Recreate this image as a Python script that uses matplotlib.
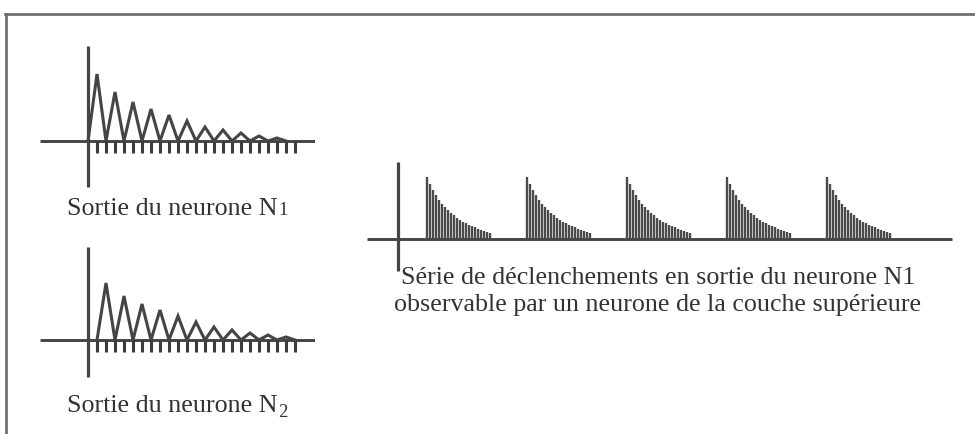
import matplotlib
matplotlib.use("Agg")
import matplotlib.pyplot as plt
from matplotlib.lines import Line2D

# amplitudes des pics (sortie triangulaire)
pics_n1 = [67, 49, 39, 32, 26, 20, 14, 11, 8, 5, 3]
pics_n2 = [57, 44, 36, 30, 24, 18, 13, 10, 7, 5, 3]
graduations = list(range(1, 24))

# série de déclenchements : début de chaque salve et hauteur des barres
debut_salves = [29, 129, 229, 329, 429]
hauteurs_salve = [62, 55, 49, 44, 39, 35, 32, 29, 26, 24, 21, 19,
                  17, 16, 14, 13, 12, 10, 9, 8, 7, 6]
pas_barres = 3

W, H = 975, 435
GRIS = "#454545"
POLICE = "Liberation Serif"
TAILLE = 18.7

fig = plt.figure(figsize=(W / 100, H / 100), dpi=100)
fig.patch.set_facecolor("white")


def axes_px(x0, y0, x1, y1):
    # rectangle en pixels (origine en haut a gauche)
    ax = fig.add_axes([x0 / W, 1 - y1 / H, (x1 - x0) / W, (y1 - y0) / H])
    ax.axis("off")
    return ax


# cadre (haut et gauche)
fig.add_artist(Line2D([5 / W, 1], [1 - 15 / H] * 2, color="#6a6a6a", lw=1.9))
fig.add_artist(Line2D([6 / W] * 2, [1 - 15 / H, 0], color="#6a6a6a", lw=1.9))


def panneau_neurone(y_base, pics, decalage, haut, bas):
    x0, x1 = 40, 315
    ax = axes_px(x0, y_base - 100, x1, y_base + 50)
    ax.set_xlim((x0 - 88) / 9, (x1 - 88) / 9)
    ax.set_ylim(-50, 100)
    ax.plot(ax.get_xlim(), [0, 0], color=GRIS, lw=2.1, solid_capstyle="butt")
    ax.plot([0, 0], [-bas, haut], color=GRIS, lw=2.3, solid_capstyle="butt")
    ax.vlines(graduations, -12, 0, color="#3c3c3c", lw=2.2)
    xs, ys = [], []
    for k, h in enumerate(pics):
        xs += [decalage + 2 * k, decalage + 2 * k + 1]
        ys += [0, h]
    xs.append(decalage + 2 * len(pics))
    ys.append(0)
    ax.plot(xs, ys, color=GRIS, lw=2.2, solid_joinstyle="miter")
    return ax


panneau_neurone(142, pics_n1, 0, 95, 46)
panneau_neurone(341, pics_n2, 1, 93, 37)

# panneau de droite : salves
ax = axes_px(360, 150, 960, 280)
ax.set_xlim(360 - 398, 960 - 398)
ax.set_ylim(-40, 90)
ax.plot([367 - 398, 952 - 398], [0, 0], color=GRIS, lw=2.1, solid_capstyle="butt")
ax.plot([0, 0], [-32, 77], color=GRIS, lw=2.3, solid_capstyle="butt")
for d in debut_salves:
    xb = [d + i * pas_barres for i in range(len(hauteurs_salve))]
    ax.vlines(xb, 0, hauteurs_salve, color="#4a4a4a", lw=1.7)


def texte_px(x, y, s, **kw):
    return fig.text(x / W, 1 - y / H, s, family=POLICE, color="#333333", **kw)


def suffixe(t, s, taille, dy):
    # place un petit chiffre juste apres un texte deja pose
    fig.canvas.draw()
    bb = t.get_window_extent()
    x, y = t.get_position()
    fig.text(bb.x1 / W + 0.001, y - dy / H, s, family=POLICE, color="#333333",
             fontsize=taille, va="baseline")


t1 = texte_px(67, 215, "Sortie du neurone N", fontsize=TAILLE, va="baseline")
suffixe(t1, "1", 13.5, 0)
t2 = texte_px(67, 412, "Sortie du neurone N", fontsize=TAILLE, va="baseline")
suffixe(t2, "2", 13.5, 5)

texte_px(658, 284, "Série de déclenchements en sortie du neurone N1",
         fontsize=TAILLE, ha="center", va="baseline")
texte_px(658, 311, "observable par un neurone de la couche supérieure",
         fontsize=TAILLE, ha="center", va="baseline")

fig.savefig("out.png", dpi=100)
